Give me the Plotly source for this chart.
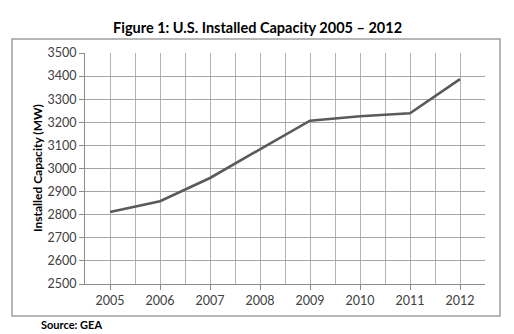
import plotly.graph_objects as go

years = [2005, 2006, 2007, 2008, 2009, 2010, 2011, 2012]
capacity = [2812, 2858, 2959, 3084, 3207, 3226, 3239, 3387]
y_ticks = list(range(2500, 3501, 100))

W, H = 514, 334
ML, MR, MT, MB = 85, 29, 53, 50
PW = W - ML - MR
PH = H - MT - MB

def px(x):
    return (x - ML) / PW

def py(y):
    return (H - MB - y) / PH

FONT = "Lato"
fig = go.Figure()
fig.add_trace(go.Scatter(x=years, y=capacity, mode="lines",
                         line=dict(color="#5a5a5a", width=2.6),
                         showlegend=False, hoverinfo="skip"))

fig.update_layout(
    width=W, height=H,
    margin=dict(l=ML, r=MR, t=MT, b=MB),
    paper_bgcolor="white", plot_bgcolor="white",
    font=dict(family=FONT, color="#404040", size=12.5),
    xaxis=dict(range=[2004.5, 2012.5], tickvals=years, ticktext=[str(y) for y in years],
               showgrid=True, gridcolor="#b3b3b3", gridwidth=1,
               ticks="outside", ticklen=5, tickcolor="#8c8c8c",
               showline=True, linecolor="#8c8c8c", linewidth=1,
               minor=dict(tickvals=[y + 0.5 for y in [2004] + years], showgrid=True,
                          gridcolor="#b3b3b3", gridwidth=1, ticks=""),
               zeroline=False, fixedrange=True),
    yaxis=dict(range=[2500, 3500], tickvals=y_ticks,
               showgrid=True, gridcolor="#a6a6a6", gridwidth=1,
               ticks="outside", ticklen=5, tickcolor="#8c8c8c",
               showline=True, linecolor="#8c8c8c", linewidth=1,
               zeroline=False, fixedrange=True),
    shapes=[dict(type="rect", xref="paper", yref="paper",
                 x0=px(12), x1=px(500), y0=py(316), y1=py(39),
                 line=dict(color="#a0a0a0", width=1.5), fillcolor="rgba(0,0,0,0)",
                 layer="below")],
    annotations=[
        dict(text="<b>Figure 1: U.S. Installed Capacity 2005 – 2012</b>",
             xref="paper", yref="paper", x=px(257), y=py(27),
             xanchor="center", yanchor="middle", showarrow=False,
             font=dict(family=FONT, size=14.5, color="black")),
        dict(text="<b>Installed Capacity (MW)</b>", textangle=-90,
             xref="paper", yref="paper", x=px(37), y=py(168),
             xanchor="center", yanchor="middle", showarrow=False,
             font=dict(family=FONT, size=12, color="black")),
        dict(text="<b>Source: GEA</b>",
             xref="paper", yref="paper", x=px(39), y=py(324),
             xanchor="left", yanchor="middle", showarrow=False,
             font=dict(family=FONT, size=11, color="black")),
    ],
)

fig.write_html("out.html")
